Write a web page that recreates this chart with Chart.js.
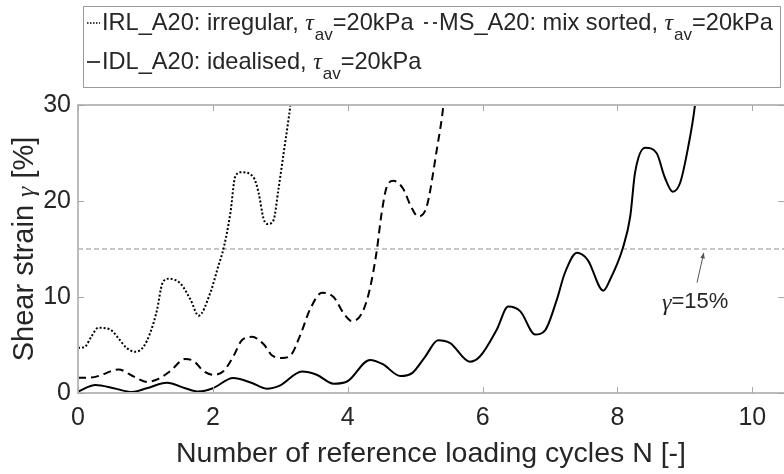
<!DOCTYPE html>
<html><head><meta charset="utf-8">
<script src="https://cdn.jsdelivr.net/npm/chart.js@4/dist/chart.umd.min.js"></script>
<style>html,body{margin:0;padding:0;background:#fff}#wrap{width:784px;height:474px}</style>
</head><body><div id="wrap"><canvas id="c" width="784" height="474"></canvas></div>
<script>
// ---- data ----
const irlN = [0, 0.1, 0.2, 0.3, 0.48, 0.6, 0.72, 0.85, 0.97, 1.07, 1.17, 1.25, 1.34, 1.52, 1.67, 1.79, 1.96, 2.08, 2.16, 2.26, 2.33, 2.42, 2.6, 2.68, 2.75, 2.81, 2.9, 2.97, 3.05, 3.12, 3.15, 3.19];
const irlG = [4.7, 4.8, 5.9, 6.8, 6.6, 5.7, 4.7, 4.3, 4.8, 6.25, 8.6, 11.4, 11.9, 11.4, 9.7, 8.05, 10.4, 13.2, 15.1, 18.75, 22.5, 23.0, 22.5, 20.8, 18.2, 17.6, 18.0, 21.1, 25.0, 28.4, 30, 33];

const msN = [0, 0.18, 0.34, 0.48, 0.6, 0.83, 1.02, 1.2, 1.37, 1.59, 1.72, 1.86, 2.01, 2.16, 2.31, 2.43, 2.58, 2.75, 2.88, 3.02, 3.15, 3.3, 3.44, 3.62, 3.79, 3.94, 4.06, 4.21, 4.33, 4.43, 4.5, 4.58, 4.68, 4.82, 4.94, 5.04, 5.17, 5.32, 5.42, 5.46];
const msG = [1.6, 1.6, 1.85, 2.25, 2.45, 1.7, 1.15, 1.5, 2.3, 3.55, 3.3, 2.3, 1.9, 2.3, 3.9, 5.5, 5.85, 5.1, 3.9, 3.65, 3.9, 6.1, 8.7, 10.45, 10.0, 8.3, 7.5, 8.3, 10.9, 14.8, 18.6, 21.5, 22.1, 21.3, 19.4, 18.4, 19.4, 25.3, 30, 33];

const idlN = [0, 0.26, 0.53, 0.8, 1.02, 1.32, 1.59, 1.79, 2.0, 2.3, 2.56, 2.8, 3.0, 3.32, 3.54, 3.79, 3.99, 4.33, 4.52, 4.78, 4.96, 5.15, 5.34, 5.52, 5.81, 5.96, 6.21, 6.38, 6.56, 6.78, 6.93, 7.1, 7.22, 7.4, 7.56, 7.79, 7.89, 8.08, 8.19, 8.26, 8.41, 8.58, 8.7, 8.82, 8.93, 9.04, 9.15, 9.19];
const idlG = [0.15, 0.83, 0.5, 0.1, 0.5, 1.07, 0.5, 0.15, 0.5, 1.56, 1.1, 0.45, 0.8, 2.24, 1.9, 0.97, 1.2, 3.45, 3.0, 1.77, 2.1, 3.8, 5.5, 5.2, 3.26, 3.8, 6.6, 9.0, 8.5, 6.1, 6.56, 9.7, 12.5, 14.6, 13.85, 10.66, 11.8, 15.1, 18.4, 22.9, 25.55, 25.0, 22.5, 20.97, 21.9, 25.3, 30, 33];

const refN = [0, 10.47];
const refG = [15, 15];

const xTicks = [0, 2, 4, 6, 8, 10];
const yTicks = [0, 10, 20, 30];

const seriesNames = ['IRL_A20: irregular, ', 'MS_A20: mix sorted, ', 'IDL_A20: idealised, '];
const tauSuffix = '=20kPa';
const xTitle = 'Number of reference loading cycles N [-]';
const yTitleParts = ['Shear strain ', '\u03B3', ' [%]'];
const annotParts = ['\u03B3', '=15%'];
const annotAt = {x: 8.66, y: 9.5};
const arrowFrom = {x: 9.18, y: 11.5};
const arrowTo = {x: 9.28, y: 14.6};

const SANS = '"Liberation Sans", Arial, Helvetica, sans-serif';
const SERIF = '"Liberation Serif", "DejaVu Serif", serif';
const TXT = '#262626';

const pts = (xs, ys) => xs.map((v, i) => ({x: v, y: ys[i]}));

const styles = [
  {dash: [2, 2], legendDash: [1.5, 1.5]},
  {dash: [8, 5], legendDash: [4, 5]},
  {dash: [], legendDash: []}
];

const overlay = {
  id: 'overlay',
  afterDraw(chart) {
    const {ctx, chartArea: a, scales: {x, y}} = chart;
    ctx.save();
    // axes box (right side is cut by the picture edge)
    ctx.strokeStyle = '#bcbcbc';
    ctx.lineWidth = 2;
    ctx.beginPath();
    ctx.moveTo(a.right + 2, a.top); ctx.lineTo(a.left, a.top);
    ctx.lineTo(a.left, a.bottom); ctx.lineTo(a.right + 2, a.bottom);
    ctx.stroke();
    // inward ticks
    ctx.strokeStyle = '#a8a8a8';
    ctx.lineWidth = 1;
    ctx.beginPath();
    xTicks.forEach(v => {
      const px = Math.round(x.getPixelForValue(v)) + 0.5;
      ctx.moveTo(px, a.bottom); ctx.lineTo(px, a.bottom - 6);
      ctx.moveTo(px, a.top); ctx.lineTo(px, a.top + 6);
    });
    yTicks.forEach(v => {
      const py = Math.round(y.getPixelForValue(v)) + 0.5;
      ctx.moveTo(a.left, py); ctx.lineTo(a.left + 6, py);
      ctx.moveTo(a.right, py); ctx.lineTo(a.right - 6, py);
    });
    ctx.stroke();

    // annotation arrow
    const fx = x.getPixelForValue(arrowFrom.x), fy = y.getPixelForValue(arrowFrom.y);
    const tx = x.getPixelForValue(arrowTo.x), ty = y.getPixelForValue(arrowTo.y);
    ctx.strokeStyle = '#555'; ctx.fillStyle = '#555'; ctx.lineWidth = 1;
    ctx.beginPath(); ctx.moveTo(fx, fy); ctx.lineTo(tx, ty); ctx.stroke();
    const ang = Math.atan2(ty - fy, tx - fx);
    ctx.beginPath();
    ctx.moveTo(tx, ty);
    ctx.lineTo(tx - 6 * Math.cos(ang - 0.4), ty - 6 * Math.sin(ang - 0.4));
    ctx.lineTo(tx - 6 * Math.cos(ang + 0.4), ty - 6 * Math.sin(ang + 0.4));
    ctx.closePath(); ctx.fill();
    // annotation text
    let ax = x.getPixelForValue(annotAt.x), ay = y.getPixelForValue(annotAt.y);
    ctx.fillStyle = TXT; ctx.textBaseline = 'middle'; ctx.textAlign = 'left';
    ctx.font = 'italic 24px ' + SERIF;
    ctx.fillText(annotParts[0], ax, ay + 2);
    ax += ctx.measureText(annotParts[0]).width;
    ctx.font = '22px ' + SANS;
    ctx.fillText(annotParts[1], ax, ay);

    // y title (mixed fonts)
    ctx.save();
    ctx.translate(25, (a.top + a.bottom) / 2);
    ctx.rotate(-Math.PI / 2);
    const f1 = '29px ' + SANS, f2 = 'italic 26px ' + SERIF;
    ctx.font = f1; const w0 = ctx.measureText(yTitleParts[0]).width, w2 = ctx.measureText(yTitleParts[2]).width;
    ctx.font = f2; const w1 = ctx.measureText(yTitleParts[1]).width;
    let sx = -(w0 + w1 + w2) / 2;
    ctx.fillStyle = TXT; ctx.textBaseline = 'middle';
    ctx.font = f1; ctx.fillText(yTitleParts[0], sx, 0); sx += w0;
    ctx.font = f2; ctx.fillText(yTitleParts[1], sx, 2); sx += w1;
    ctx.font = f1; ctx.fillText(yTitleParts[2], sx, 0);
    ctx.restore();

    // legend
    ctx.strokeStyle = '#9a9a9a'; ctx.lineWidth = 1;
    ctx.strokeRect(83.5, 6.5, 697, 81);
    const items = [
      {x: 87, y: 23, i: 0},
      {x: 424, y: 23, i: 1},
      {x: 87, y: 62, i: 2}
    ];
    items.forEach(it => {
      const ds = chart.data.datasets[it.i];
      ctx.strokeStyle = '#000'; ctx.lineWidth = 1.5;
      ctx.setLineDash(styles[it.i].legendDash);
      ctx.beginPath(); ctx.moveTo(it.x, it.y); ctx.lineTo(it.x + 13, it.y); ctx.stroke();
      ctx.setLineDash([]);
      let tx2 = it.x + 15;
      ctx.fillStyle = TXT; ctx.textBaseline = 'middle';
      ctx.font = '23.6px ' + SANS;
      ctx.fillText(ds.label, tx2, it.y); tx2 += ctx.measureText(ds.label).width;
      ctx.font = 'italic 24px ' + SERIF;
      ctx.fillText('\u03C4', tx2, it.y + 1); tx2 += ctx.measureText('\u03C4').width + 1;
      ctx.font = '17px ' + SANS;
      ctx.fillText('av', tx2, it.y + 12); tx2 += ctx.measureText('av').width;
      ctx.font = '23.6px ' + SANS;
      ctx.fillText(tauSuffix, tx2, it.y);
    });
    ctx.restore();
  }
};

new Chart(document.getElementById('c'), {
  type: 'line',
  data: {
    datasets: [
      {label: seriesNames[0], data: pts(irlN, irlG), borderColor: '#000', borderWidth: 2, borderDash: styles[0].dash, pointRadius: 0, fill: false, cubicInterpolationMode: 'monotone'},
      {label: seriesNames[1], data: pts(msN, msG), borderColor: '#000', borderWidth: 2, borderDash: styles[1].dash, pointRadius: 0, fill: false, cubicInterpolationMode: 'monotone'},
      {label: seriesNames[2], data: pts(idlN, idlG), borderColor: '#000', borderWidth: 2, borderDash: styles[2].dash, pointRadius: 0, fill: false, cubicInterpolationMode: 'monotone'},
      {label: 'ref', data: pts(refN, refG), borderColor: '#8c8c8c', borderWidth: 1, borderDash: [5, 3], pointRadius: 0, fill: false}
    ]
  },
  options: {
    responsive: false,
    animation: false,
    devicePixelRatio: 1,
    layout: {padding: {top: 105, left: 0, right: 0, bottom: 0}},
    plugins: {legend: {display: false}, tooltip: {enabled: false}},
    scales: {
      x: {
        type: 'linear', min: 0, max: 10.47,
        grid: {display: false, drawTicks: false},
        border: {display: false},
        afterBuildTicks: s => { s.ticks = xTicks.map(v => ({value: v})); },
        afterFit: s => { s.height = 81; },
        ticks: {color: TXT, padding: 10, font: {family: SANS, size: 25}, maxRotation: 0},
        title: {display: true, text: xTitle, color: TXT, font: {family: SANS, size: 28.5}, padding: {top: 0, bottom: 3}}
      },
      y: {
        type: 'linear', min: 0, max: 30,
        grid: {display: false, drawTicks: false},
        border: {display: false},
        afterBuildTicks: s => { s.ticks = yTicks.map(v => ({value: v})); },
        afterFit: s => { s.width = 78; },
        ticks: {color: TXT, padding: 7, font: {family: SANS, size: 25}}
      }
    }
  },
  plugins: [overlay]
});
</script>
</body></html>
